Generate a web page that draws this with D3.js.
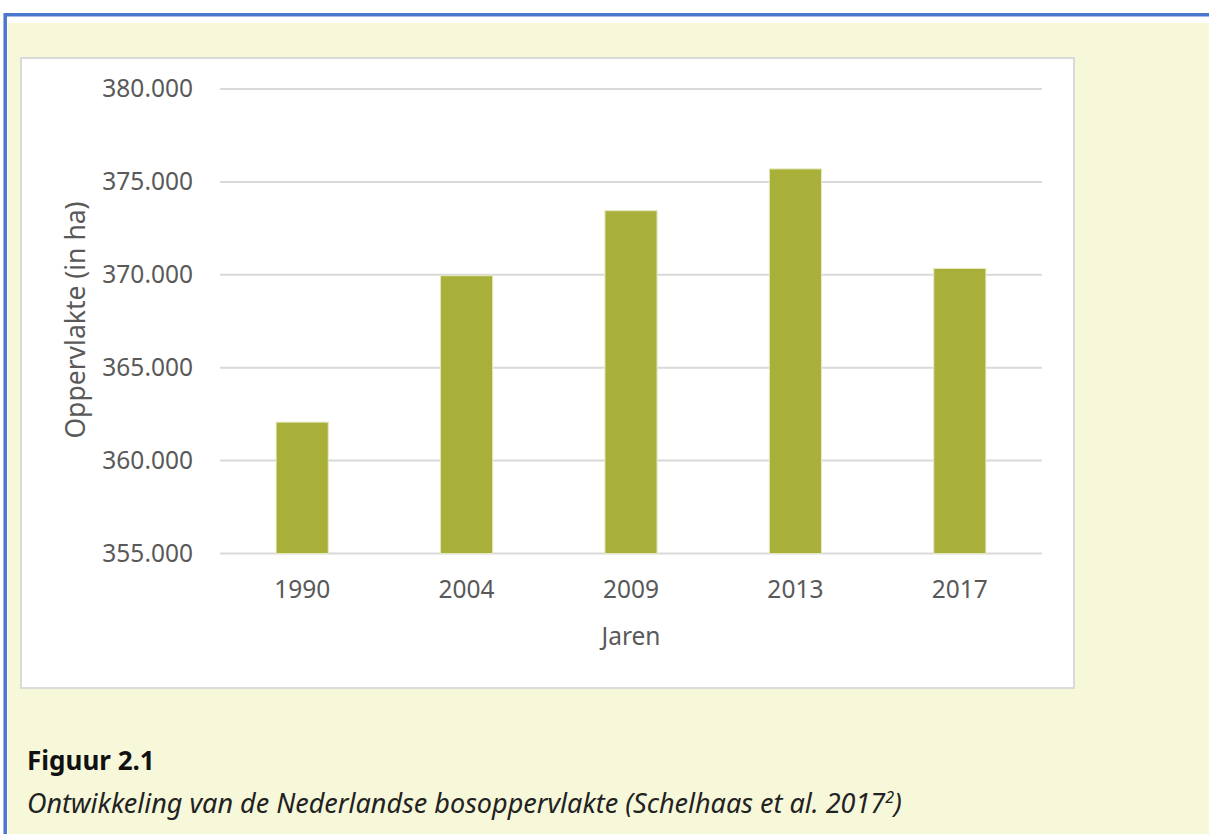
<!DOCTYPE html>
<meta charset="utf-8">
<style>
    body { margin: 0; background: #fff; }
    svg { display: block; }
    .tick text { fill: #595959; }
</style>
<body>
<script src="https://cdn.jsdelivr.net/npm/d3@7"></script>
<script>

    var years = ["1990", "2004", "2009", "2013", "2017"];
    var area = [362070, 369950, 373450, 375700, 370340];
    var yTicks = [355000, 360000, 365000, 370000, 375000, 380000];

    var width = 1209;
    var height = 834;

    var svg = d3.select("body").append("svg")
        .attr("width", width)
        .attr("height", height);

    // outer frame
    svg.append("rect")
        .attr("x", 8).attr("y", 23)
        .attr("width", width - 8).attr("height", height - 23)
        .style("fill", "#f7f7da");
    svg.append("path")
        .attr("d", "M5.2," + height + " V14.8 H" + width)
        .style("fill", "none")
        .style("stroke", "#4a78cc")
        .style("stroke-width", 3.5);

    // white chart panel
    svg.append("rect")
        .attr("x", 21).attr("y", 58)
        .attr("width", 1053).attr("height", 630)
        .style("fill", "#fff")
        .style("stroke", "#dadada")
        .style("stroke-width", 2);

    var x = d3.scaleBand()
        .domain(years)
        .range([220, 1042])
        .paddingInner(0.683)
        .paddingOuter(0.3415);

    var y = d3.scaleLinear()
        .domain([355000, 380000])
        .range([553.5, 89]);

    var fmt = function (d) {
        return d3.format(",")(d).replace(/,/g, ".");
    };

    // gridlines
    svg.append("g")
        .selectAll("line")
        .data(yTicks)
        .enter().append("line")
        .attr("x1", 220).attr("x2", 1042)
        .attr("y1", function (d) { return y(d); })
        .attr("y2", function (d) { return y(d); })
        .style("stroke", "#d9d9d9")
        .style("stroke-width", 2);

    // bars
    svg.append("g")
        .selectAll("rect")
        .data(years)
        .enter().append("rect")
        .attr("x", function (d) { return x(d); })
        .attr("width", x.bandwidth())
        .attr("y", function (d, i) { return y(area[i]); })
        .attr("height", function (d, i) { return y(355000) - y(area[i]); })
        .style("fill", "#a9b03a")
        .style("stroke", "#e4e8c0")
        .style("stroke-width", 1);

    var font = "'Noto Sans', sans-serif";

    // y axis
    var yAxis = svg.append("g")
        .attr("transform", "translate(220,0)")
        .call(d3.axisLeft(y).tickValues(yTicks).tickFormat(fmt).tickSize(0).tickPadding(27));
    yAxis.select(".domain").remove();
    yAxis.selectAll("text")
        .style("font-family", font)
        .style("font-size", "24.5px");

    // x axis
    var xAxis = svg.append("g")
        .attr("transform", "translate(0,553.5)")
        .call(d3.axisBottom(x).tickSize(0).tickPadding(27));
    xAxis.select(".domain").remove();
    xAxis.selectAll("text")
        .style("font-family", font)
        .style("font-size", "24.5px");

    svg.append("text")
        .attr("x", 631).attr("y", 645)
        .attr("text-anchor", "middle")
        .style("font-family", font)
        .style("font-size", "24.5px")
        .style("fill", "#595959")
        .text("Jaren");

    svg.append("text")
        .attr("transform", "translate(85,320) rotate(-90)")
        .attr("text-anchor", "middle")
        .style("font-family", font)
        .style("font-size", "26.5px")
        .style("fill", "#595959")
        .text("Oppervlakte (in ha)");

    // caption
    svg.append("text")
        .attr("x", 27).attr("y", 770)
        .style("font-family", "'Noto Sans', sans-serif")
        .style("font-weight", "bold")
        .style("font-size", "26px")
        .style("fill", "#111")
        .text("Figuur 2.1");

    var cap = svg.append("text")
        .attr("x", 27).attr("y", 813)
        .style("font-family", "'Noto Sans', sans-serif")
        .style("font-style", "italic")
        .style("font-size", "27px")
        .style("fill", "#222");
    cap.append("tspan").text("Ontwikkeling van de Nederlandse bosoppervlakte (Schelhaas et al. 2017");
    cap.append("tspan").attr("dy", -10).style("font-size", "16px").text("2");
    cap.append("tspan").attr("dy", 10).text(")");

</script>
</body>
</html>
